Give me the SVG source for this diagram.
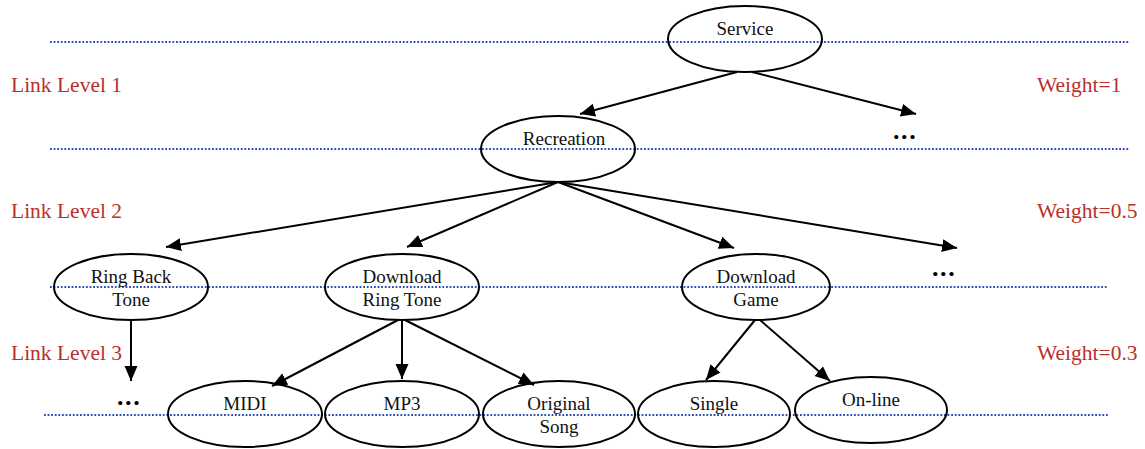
<svg xmlns="http://www.w3.org/2000/svg" width="1145" height="449" viewBox="0 0 1145 449">
<style>
.lvl{fill:none;stroke:#2c4db3;stroke-width:2;stroke-dasharray:1.8 1.8}
.node ellipse{fill:none;stroke:#000;stroke-width:2}
.node text{font-family:"Liberation Serif",serif;font-size:19px;fill:#111;text-anchor:middle}
.lab{font-family:"Liberation Serif",serif;font-size:21.5px;fill:#b9302a}
.edge{stroke:#000;stroke-width:2;fill:none;marker-end:url(#ah)}
.dots{font-family:"Liberation Serif",serif;font-size:26px;font-weight:bold;fill:#000;letter-spacing:1.6px}
</style>
<defs>
<marker id="ah" markerUnits="userSpaceOnUse" markerWidth="16" markerHeight="14" refX="15" refY="6.5" orient="auto" viewBox="0 0 16 14">
<path d="M0,0 L15,6.5 L0,13 z" fill="#000"/>
</marker>
</defs>
<g id="levels">
<line class="lvl" x1="50" y1="42" x2="1130" y2="42"/>
<line class="lvl" x1="50" y1="149" x2="1130" y2="149"/>
<line class="lvl" x1="50" y1="287" x2="1108" y2="287"/>
<line class="lvl" x1="44" y1="415" x2="1108" y2="415"/>
</g>
<g id="labels">
<text class="lab" x="11" y="92">Link Level 1</text>
<text class="lab" x="11" y="218">Link Level 2</text>
<text class="lab" x="11" y="360">Link Level 3</text>
<text class="lab" x="1037" y="92">Weight=1</text>
<text class="lab" x="1037" y="218">Weight=0.5</text>
<text class="lab" x="1037" y="360">Weight=0.3</text>
</g>
<g id="connectors">
<line class="edge" x1="737" y1="72" x2="580" y2="114"/>
<line class="edge" x1="752" y1="72" x2="916" y2="114"/>
<line class="edge" x1="558" y1="182" x2="166" y2="247"/>
<line class="edge" x1="558" y1="182" x2="407" y2="247"/>
<line class="edge" x1="558" y1="182" x2="734" y2="248"/>
<line class="edge" x1="558" y1="182" x2="957" y2="248"/>
<line class="edge" x1="131" y1="320" x2="131" y2="381"/>
<line class="edge" x1="398" y1="320" x2="272" y2="386"/>
<line class="edge" x1="402" y1="320" x2="402" y2="379"/>
<line class="edge" x1="405" y1="320" x2="534" y2="385"/>
<line class="edge" x1="755" y1="320" x2="706" y2="380"/>
<line class="edge" x1="760" y1="320" x2="830" y2="381"/>
</g>
<g id="more">
<text class="dots" x="893" y="139">...</text>
<text class="dots" x="932" y="276">...</text>
<text class="dots" x="117" y="405">...</text>
</g>
<g id="service" class="node"><ellipse cx="745" cy="39" rx="77" ry="33"/><text x="745" y="35">Service</text></g>
<g id="recreation" class="node"><ellipse cx="558" cy="149" rx="77" ry="33"/><text x="564" y="145">Recreation</text></g>
<g id="ringback" class="node"><ellipse cx="131" cy="287" rx="77" ry="33"/><text x="131" y="283">Ring Back</text><text x="131" y="306">Tone</text></g>
<g id="dlring" class="node"><ellipse cx="402" cy="287" rx="77" ry="33"/><text x="402" y="283">Download</text><text x="402" y="306">Ring Tone</text></g>
<g id="dlgame" class="node"><ellipse cx="756" cy="287" rx="74" ry="33"/><text x="756" y="283">Download</text><text x="756" y="306">Game</text></g>
<g id="midi" class="node"><ellipse cx="245" cy="414" rx="77" ry="33"/><text x="245" y="410">MIDI</text></g>
<g id="mp3" class="node"><ellipse cx="402" cy="414" rx="77" ry="33"/><text x="402" y="410">MP3</text></g>
<g id="original" class="node"><ellipse cx="559" cy="414" rx="76" ry="33"/><text x="559" y="410">Original</text><text x="559" y="433">Song</text></g>
<g id="single" class="node"><ellipse cx="714" cy="414" rx="76" ry="33"/><text x="714" y="410">Single</text></g>
<g id="online" class="node"><ellipse cx="871" cy="410" rx="76" ry="33"/><text x="871" y="406">On-line</text></g>
</svg>
